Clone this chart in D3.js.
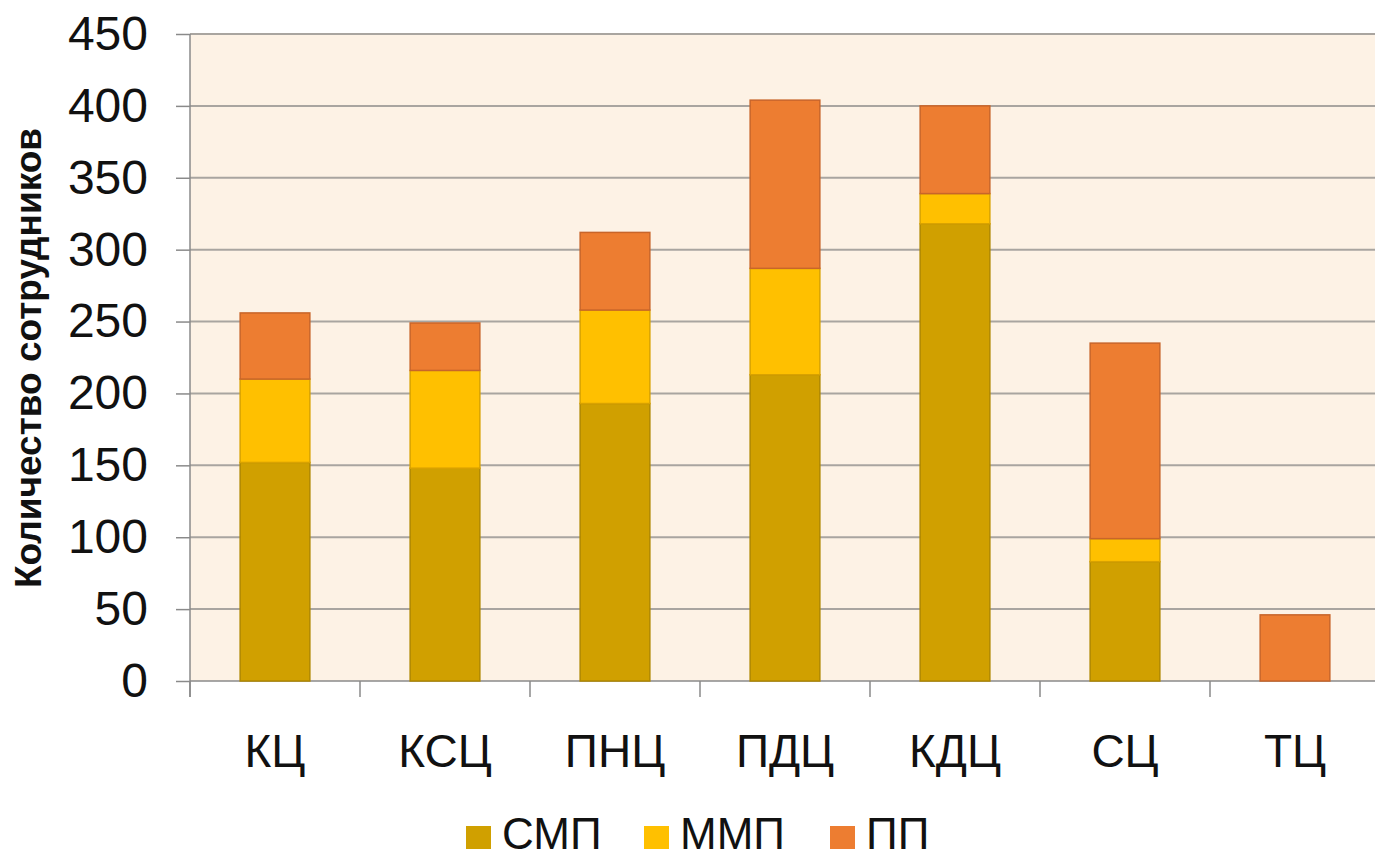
<!DOCTYPE html>
<html>
<head>
<meta charset="utf-8">
<script src="https://cdn.jsdelivr.net/npm/d3@7"></script>
<style>
  html, body { margin: 0; padding: 0; background: #ffffff; }
  svg { display: block; font-family: "Liberation Sans", Arial, sans-serif; }
</style>
</head>
<body>
<svg id="chart" width="1375" height="860"></svg>
<script>
// Staff counts per centre, split by personnel category
const categories = ["КЦ", "КСЦ", "ПНЦ", "ПДЦ", "КДЦ", "СЦ", "ТЦ"];
const seriesNames = ["СМП", "ММП", "ПП"];
const smp = [152, 148, 193, 213, 318, 83, 0];
const mmp = [58, 68, 65, 74, 21, 16, 0];
const pp  = [46, 33, 54, 117, 61, 136, 46];
const yTicks = [0, 50, 100, 150, 200, 250, 300, 350, 400, 450];
const colors = ["#D0A000", "#FFC000", "#ED7D31"];
const strokes = ["#B08800", "#D9A200", "#C8652A"];
const yTitle = "Количество сотрудников";

const rows = categories.map((c, i) => ({ cat: c, "СМП": smp[i], "ММП": mmp[i], "ПП": pp[i] }));
const stacked = d3.stack().keys(seriesNames)(rows);

const svg = d3.select("#chart");
const plotLeft = 190, plotRight = 1380, plotTop = 34, plotBottom = 681;

const x = d3.scaleBand().domain(categories).range([plotLeft, plotRight])
  .paddingInner(0.59).paddingOuter(0.295);
const y = d3.scaleLinear().domain([0, 450]).range([plotBottom, plotTop]);

// plot area
svg.append("rect").attr("x", plotLeft).attr("y", plotTop)
  .attr("width", plotRight - plotLeft).attr("height", plotBottom - plotTop)
  .attr("fill", "#FDF2E5");

// horizontal gridlines
svg.append("g").selectAll("line").data(yTicks.filter(t => t > 0)).join("line")
  .attr("x1", plotLeft).attr("x2", plotRight)
  .attr("y1", d => y(d)).attr("y2", d => y(d))
  .attr("stroke", "#A9A5A0").attr("stroke-width", 2);

// y axis
const yAxis = svg.append("g").attr("transform", `translate(${plotLeft},0)`)
  .call(d3.axisLeft(y).tickValues(yTicks).tickSize(14).tickPadding(28));
yAxis.select(".domain").attr("stroke", "#8A8A8A").attr("stroke-width", 1.5)
  .attr("d", `M0,${plotTop}V${plotBottom + 16}`);
yAxis.selectAll(".tick line").attr("stroke", "#8A8A8A").attr("stroke-width", 1.5);
yAxis.selectAll(".tick text").attr("font-size", 48).attr("fill", "#111")
  .attr("dy", "0.32em").style("font-family", "'Liberation Sans', Arial, sans-serif");

// x axis baseline and separators between categories
svg.append("line").attr("x1", plotLeft).attr("x2", plotRight)
  .attr("y1", plotBottom).attr("y2", plotBottom)
  .attr("stroke", "#8A8A8A").attr("stroke-width", 1.5);
const step = x.step();
svg.append("g").selectAll("line").data(d3.range(categories.length + 1)).join("line")
  .attr("x1", i => plotLeft + i * step).attr("x2", i => plotLeft + i * step)
  .attr("y1", plotBottom).attr("y2", plotBottom + 16)
  .attr("stroke", "#8A8A8A").attr("stroke-width", 1.5);

// category labels
svg.append("g").selectAll("text").data(categories).join("text")
  .attr("x", d => x(d) + x.bandwidth() / 2)
  .attr("y", 767)
  .attr("text-anchor", "middle")
  .attr("font-size", 46).attr("fill", "#111")
  .text(d => d);

// stacked bars
svg.append("g").selectAll("g").data(stacked).join("g")
  .attr("fill", (d, i) => colors[i])
  .attr("stroke", (d, i) => strokes[i])
  .selectAll("rect").data(d => d.filter(s => s[1] - s[0] > 0)).join("rect")
  .attr("x", d => x(d.data.cat))
  .attr("width", x.bandwidth())
  .attr("y", d => y(d[1]))
  .attr("height", d => y(d[0]) - y(d[1]))
  .attr("stroke-width", 1.5);

// y axis title
svg.append("text")
  .attr("transform", `translate(41,358) rotate(-90)`)
  .attr("text-anchor", "middle")
  .attr("font-size", 37).attr("font-weight", "bold").attr("fill", "#111")
  .text(yTitle);

// legend
const legendX = [466, 644, 830];
const lg = svg.append("g").selectAll("g").data(seriesNames).join("g")
  .attr("transform", (d, i) => `translate(${legendX[i]},826)`);
lg.append("rect").attr("width", 25).attr("height", 23)
  .attr("fill", (d, i) => colors[i]);
lg.append("text").attr("x", 36).attr("y", 23)
  .attr("font-size", 44).attr("fill", "#111")
  .text(d => d);
</script>
</body>
</html>
